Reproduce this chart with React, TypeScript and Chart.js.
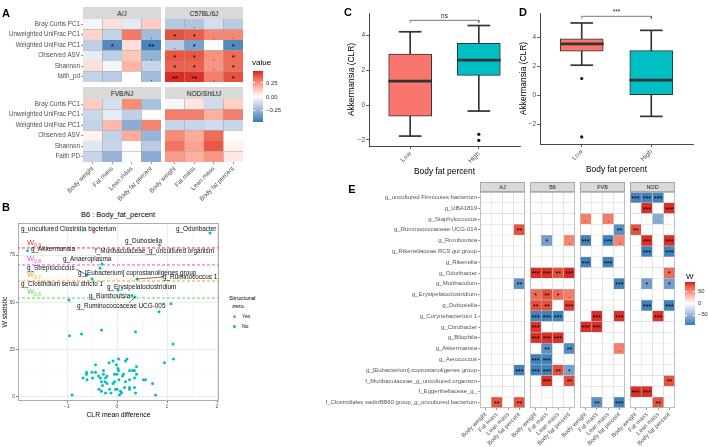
import React, { useEffect, useRef } from "react";
import { Chart, registerables } from "chart.js";

Chart.register(...registerables);

const SANS = "'Liberation Sans', Arimo, Arial, Helvetica, sans-serif";
Chart.defaults.font.family = SANS;

/* ======================= DATA ======================= */
const MEASURES = ["Body weight", "Fat mass", "Lean mass", "Body fat percent"];

// ---- Panel A (correlation heatmaps) ----
const A_ROWS_TOP = ["Bray Curtis PC1", "Unweighted UniFrac PC1", "Weighted UniFrac PC1", "Observed ASV", "Shannon", "faith_pd"];
const A_ROWS_BOTTOM = ["Bray Curtis PC1", "Unweighted UniFrac PC1", "Weighted UniFrac PC1", "Observed ASV", "Shannon", "Faith PD"];
const A_FACETS = ["A/J", "C57BL/6J", "FVB/NJ", "NOD/ShiLtJ"];
const A_AJ = [
  [-0.03, 0.07, -0.07, 0.12],
  [0.1, -0.15, 0.3, -0.22],
  [-0.16, -0.4, 0.07, -0.42],
  [-0.06, -0.16, 0.13, -0.26],
  [0.07, -0.03, 0.17, -0.14],
  [-0.15, -0.17, 0.0, -0.22],
];
const A_AJ_SIG = [
  ["", "", "", ""],
  ["", "", "", "."],
  ["", "*", "", "**"],
  ["", "", "", "."],
  ["", "", "", ""],
  ["", "", "", "."],
];
const A_C57 = [
  [-0.18, -0.19, -0.11, -0.17],
  [0.38, 0.36, 0.27, 0.27],
  [-0.17, -0.32, -0.01, -0.4],
  [0.37, 0.37, 0.25, 0.33],
  [0.35, 0.35, 0.24, 0.33],
  [0.44, 0.43, 0.29, 0.38],
];
const A_C57_SIG = [
  ["", ".", "", ""],
  ["*", "*", ".", "."],
  [".", "*", "", "*"],
  ["*", "*", ".", "*"],
  ["*", "*", ".", "*"],
  ["**", "**", ".", "*"],
];
const A_FVB = [
  [0.12, -0.1, 0.26, -0.21],
  [-0.13, -0.06, -0.16, -0.01],
  [-0.15, 0.16, -0.28, 0.28],
  [0.03, -0.15, 0.19, -0.25],
  [-0.08, -0.14, -0.01, -0.17],
  [-0.14, -0.25, -0.01, -0.28],
];
const A_NOD = [
  [-0.02, 0.06, -0.12, 0.11],
  [0.29, 0.29, 0.18, 0.29],
  [-0.14, -0.14, -0.12, -0.14],
  [0.26, 0.19, 0.33, 0.0],
  [0.31, 0.21, 0.37, 0.03],
  [0.23, 0.18, 0.24, 0.05],
];
const A_NO_SIG = [
  ["", "", "", ""], ["", "", "", ""], ["", "", "", ""],
  ["", "", "", ""], ["", "", "", ""], ["", "", "", ""],
];
const A_LEGEND_TICKS = [0.25, 0, -0.25];

// ---- Panel B (volcano) ----
const B_THRESH_NAMES = ["0.9", "0.8", "0.7", "0.6"];
const B_THRESH_W = [78.8, 69.8, 61.3, 52.3];
const B_YES_X = [-0.46];
const B_YES_W = [87.2];
const B_NO_X = [
  1.86, 0.85, -1.79, -0.3, -0.34, -0.6, -0.5, 0.4, 0.02, 0.3, 0.36, -0.96, 1.08, 0.84,
  -0.95, -0.71, -0.31, 0.37, 1.12, 0.95, 1.13, -0.9, 0.77, 0.71,
  -0.43, -0.16, -0.08, 0.03, 0.17, 0.2, 0.39, -0.01,
  -0.61, -0.5, -0.43, -0.27, 0.02, 0.03, 0.25, 0.31, 0.35, 0.39,
  -0.61, -0.37, -0.27, -0.05, 0.0, 0.13, 0.11,
  -0.68, -0.6, -0.49, -0.33, -0.23, -0.2, 0.35, 0.25, 0.04,
  -0.05, -0.24, -0.31, 0.17, 0.53, 0.57,
  -0.08, -0.2, -0.29, 0.15, 0.25, 0.25, 0.35,
  -0.36, -0.15, -0.03, 0.0, -0.31, -0.23, -0.12, 0.07, 0.05, 0.09, 0.37,
];
const B_NO_W = [
  86.7, 80.3, 77.3, 70.3, 68.2, 64.5, 62.4, 62.4, 56.5, 53.6, 52.9, 51.3, 49.2, 45.0,
  32.3, 33.3, 35.4, 34.4, 28.0, 18.0, 20.0, 1.0, 1.0, 7.0,
  17, 18, 19, 20, 19, 20, 16, 17,
  13, 13, 13, 14, 15, 14, 14, 14, 14, 12,
  12, 11, 12, 12, 12, 12, 11,
  10, 9, 10, 10, 10, 11, 10, 9, 9,
  8, 8, 8, 8, 9, 9,
  7, 7, 6, 5, 5, 4, 5,
  4, 4, 4, 4, 3, 2, 2, 3, 1, 2, 2,
];
const B_TAXA = [
  "g_uncultured Clostridia bacterium", "g_Odoribacter", "g_Dubosiella", "g_Akkermansia",
  "f_Muribaculaceae_g_uncultured organism", "g_Anaeroplasma", "g_Streptococcus",
  "g_[Eubacterium] coprostanoligenes group", "g_Ruminococcus 1", "g_Clostridium sensu stricto 1",
  "g_Erysipelatoclostridium", "g_Romboutsia", "g_Ruminococcaceae UCG-005",
];
const B_X_TICKS = [-1, 0, 1, 2];
const B_Y_TICKS = [0, 25, 50, 75];

// ---- Panels C / D (box plots) ----
const BOX_GROUPS = ["Low", "High"];
const C_MIN = [-1.78, -0.34];
const C_Q1 = [-0.63, 1.71];
const C_MED = [1.38, 2.59];
const C_Q3 = [2.93, 3.56];
const C_MAX = [4.22, 4.58];
const C_OUT_GROUP = ["High", "High"];
const C_OUT_VAL = [-1.68, -2.03];
const C_SIG = "ns";
const D_MIN = [2.09, -1.45];
const D_Q1 = [3.06, 0.05];
const D_MED = [3.56, 1.06];
const D_Q3 = [3.91, 3.1];
const D_MAX = [5.01, 4.5];
const D_OUT_GROUP = ["Low", "Low"];
const D_OUT_VAL = [1.17, -2.87];
const D_SIG = "***";
const BOX_Y_TICKS = [-2, 0, 2, 4];

// ---- Panel E (W heatmap) ----
const E_ROWS = [
  "g_uncultured Firmicutes bacterium", "g_UBA1819", "g_Staphylococcus", "g_Ruminococcaceae UCG-014",
  "g_Romboutsia", "g_Rikenellaceae RC9 gut group", "g_Rikenella", "g_Odoribacter", "g_Muribaculum",
  "g_Erysipelatoclostridium", "g_Dubosiella", "g_Corynebacterium 1", "g_Citrobacter", "g_Bilophila",
  "g_Akkermansia", "g_Aerococcus", "g_[Eubacterium] coprostanoligenes group",
  "f_Muribaculaceae_g_uncultured organism", "f_Eggerthellaceae_g_",
  "f_Clostridiales vadinBB60 group_g_uncultured bacterium",
];
const E_FACETS = ["AJ", "B6", "FVB", "NOD"];
type Cell = [number, number, number, string]; // row, column, W, significance
const E_AJ: Cell[] = [[3, 3, 74, "**"], [8, 3, -74, "**"], [16, 3, -84, "***"], [19, 1, 74, "**"], [19, 3, 74, "**"]];
const E_B6: Cell[] = [
  [4, 1, -65, "*"], [4, 3, 53.4, "."],
  [7, 0, 85, "***"], [7, 1, 85, "***"], [7, 2, 75, "**"], [7, 3, 86.7, "***"],
  [9, 0, 65, "*"], [9, 1, 75, "**"], [9, 2, 65, "*"], [9, 3, 56.5, "."],
  [10, 0, 75, "**"], [10, 1, 75, "**"], [10, 3, 80.3, "***"],
  [11, 0, -84, "***"], [11, 1, -84, "***"], [11, 2, -84, "***"],
  [12, 0, 84, "***"],
  [13, 0, 85, "***"], [13, 1, 85, "***"], [13, 2, 85, "***"],
  [14, 1, -74, "**"], [14, 3, -77, "**"],
  [15, 0, -84, "***"], [15, 1, -84, "***"],
  [16, 0, -84, "***"], [16, 1, -84, "***"], [16, 2, 75, "**"], [16, 3, -62.4, "*"],
  [17, 1, 84, "***"], [17, 3, 76, "**"],
];
const E_FVB: Cell[] = [
  [2, 0, 56, "."], [2, 2, 58, "."], [3, 3, -74, "**"],
  [4, 0, -84, "***"], [4, 2, -84, "***"], [4, 3, 55, "."],
  [6, 0, -84, "***"], [6, 2, -84, "***"], [8, 3, -84, "***"],
  [11, 1, 85, "***"], [11, 3, 85, "***"], [12, 0, 85, "***"], [12, 1, 85, "***"],
  [14, 3, 56, "."], [19, 1, -74, "**"], [19, 3, -84, "***"],
];
const E_NOD: Cell[] = [
  [0, 0, -84, "***"], [0, 1, -84, "***"], [0, 2, -84, "***"],
  [1, 1, 85, "***"], [1, 3, 85, "***"], [2, 2, -55, "."], [3, 0, 74, "**"],
  [4, 1, 85, "***"], [4, 3, 85, "***"], [5, 1, -84, "***"], [5, 3, -84, "***"],
  [7, 3, 65, "*"], [8, 1, -65, "*"], [8, 3, -65, "*"],
  [10, 1, -84, "***"], [10, 3, -84, "***"], [11, 2, 85, "***"],
  [17, 3, 74, "**"], [18, 0, 85, "***"], [18, 1, 85, "***"], [19, 2, 74, "**"],
];
const E_LEGEND_TICKS = [50, 0, -50];

/* ======================= LAYOUT / STYLE ======================= */
const A_LIM = 0.46;
const E_LIM = 90;
const LOW_RGB = [44, 123, 182];
const HIGH_RGB = [215, 25, 28];
const BOX_COLORS = ["#F8766D", "#00BFC4"];
const B_THRESH_COLORS = ["#EE3333", "#DD55DD", "#E8A21C", "#55DD55"];
// label anchors for the repelled text in panel B (data coordinates)
const B_TAXA_POS = [
  [-1.92, 88.8], [1.18, 88.8], [0.16, 82.5], [-1.72, 78.2], [-0.44, 77.2], [-1.08, 72.9], [-1.8, 68.2],
  [-0.78, 65.5], [0.92, 63.4], [-1.92, 59.7], [-0.2, 58.1], [-0.56, 53.4], [-0.8, 48.1],
];
const B_CONNECT = [
  [-0.82, 67.6, -0.6, 64.5],
  [0.4, 62.4, 0.92, 63.4],
  [0.24, 49.7, 0.36, 52.9],
];
const B_WLABEL_X = -1.8;
const B_WLABEL_W = [81.4, 72.9, 64.5, 55.5];

/* ======================= COLOUR ======================= */
function toLin(c: number) { c /= 255; return c <= 0.04045 ? c / 12.92 : Math.pow((c + 0.055) / 1.055, 2.4); }
function fromLin(c: number) {
  const v = c <= 0.0031308 ? 12.92 * c : 1.055 * Math.pow(c, 1 / 2.4) - 0.055;
  return Math.round(Math.max(0, Math.min(1, v)) * 255);
}
function rgb2lab(c: number[]) {
  const R = toLin(c[0]), G = toLin(c[1]), B = toLin(c[2]);
  const X = (0.4124 * R + 0.3576 * G + 0.1805 * B) / 0.95047;
  const Y = 0.2126 * R + 0.7152 * G + 0.0722 * B;
  const Z = (0.0193 * R + 0.1192 * G + 0.9505 * B) / 1.08883;
  const f = (t: number) => (t > 0.008856 ? Math.cbrt(t) : 7.787 * t + 16 / 116);
  const fx = f(X), fy = f(Y), fz = f(Z);
  return [116 * fy - 16, 500 * (fx - fy), 200 * (fy - fz)];
}
function lab2rgb(l: number[]) {
  const fy = (l[0] + 16) / 116, fx = fy + l[1] / 500, fz = fy - l[2] / 200;
  const fi = (t: number) => (t * t * t > 0.008856 ? t * t * t : (t - 16 / 116) / 7.787);
  const X = fi(fx) * 0.95047, Y = fi(fy), Z = fi(fz) * 1.08883;
  return [
    fromLin(3.2406 * X - 1.5372 * Y - 0.4986 * Z),
    fromLin(-0.9689 * X + 1.8758 * Y + 0.0415 * Z),
    fromLin(0.0557 * X - 0.204 * Y + 1.057 * Z),
  ];
}
const WHITE_LAB = rgb2lab([255, 255, 255]);
const LOW_LAB = rgb2lab(LOW_RGB);
const HIGH_LAB = rgb2lab(HIGH_RGB);
function divColor(v: number | null, lim: number) {
  if (v === null || v === undefined) return "#ffffff";
  const t = Math.max(-1, Math.min(1, v / lim));
  const end = t < 0 ? LOW_LAB : HIGH_LAB;
  const k = Math.abs(t);
  const lab = WHITE_LAB.map((w, i) => w + (end[i] - w) * k);
  const c = lab2rgb(lab);
  return `rgb(${c[0]},${c[1]},${c[2]})`;
}

/* ======================= PLUGINS ======================= */
const starsPlugin = (sig: string[][], n: number, size: number) => ({
  id: "stars",
  afterDatasetsDraw(chart: any) {
    const ctx = chart.ctx;
    ctx.save();
    ctx.fillStyle = "#000";
    ctx.font = `${size}px ${SANS}`;
    ctx.textAlign = "center";
    ctx.textBaseline = "middle";
    chart.data.datasets.forEach((_: any, k: number) => {
      const r = n - 1 - k;
      chart.getDatasetMeta(k).data.forEach((el: any, j: number) => {
        const s = sig[r][j];
        if (s) ctx.fillText(s, el.x, (el.y + el.base) / 2 + size * 0.22);
      });
    });
    ctx.restore();
  },
});

const framePlugin = (color: string, width: number) => ({
  id: "frame",
  afterDatasetsDraw(chart: any) {
    const { left, top, right, bottom } = chart.chartArea;
    const ctx = chart.ctx;
    ctx.save();
    ctx.strokeStyle = color;
    ctx.lineWidth = width;
    ctx.strokeRect(left + width / 2, top + width / 2, right - left - width, bottom - top - width);
    ctx.restore();
  },
});

const bLabelPlugin = {
  id: "bLabels",
  afterDatasetsDraw(chart: any) {
    const { ctx } = chart;
    const xs = chart.scales.x, ys = chart.scales.y;
    ctx.save();
    ctx.strokeStyle = "#222";
    ctx.lineWidth = 0.6;
    B_CONNECT.forEach(([a, b, c, d]) => {
      ctx.beginPath();
      ctx.moveTo(xs.getPixelForValue(a), ys.getPixelForValue(b));
      ctx.lineTo(xs.getPixelForValue(c), ys.getPixelForValue(d));
      ctx.stroke();
    });
    ctx.textAlign = "left";
    ctx.textBaseline = "middle";
    ctx.fillStyle = "#111";
    ctx.font = `6.4px ${SANS}`;
    B_TAXA.forEach((t, i) => {
      ctx.fillText(t, xs.getPixelForValue(B_TAXA_POS[i][0]), ys.getPixelForValue(B_TAXA_POS[i][1]));
    });
    B_THRESH_NAMES.forEach((nm, i) => {
      const px = xs.getPixelForValue(B_WLABEL_X), py = ys.getPixelForValue(B_WLABEL_W[i]);
      ctx.fillStyle = B_THRESH_COLORS[i];
      ctx.font = `7.5px ${SANS}`;
      ctx.fillText("W", px, py);
      const w = ctx.measureText("W").width;
      ctx.font = `5px ${SANS}`;
      ctx.fillText(nm, px + w, py + 2.5);
    });
    ctx.restore();
  },
};

const sigTextPlugin = (text: string, yv: number, size: number) => ({
  id: "sigText",
  afterDatasetsDraw(chart: any) {
    const { ctx } = chart;
    const xs = chart.scales.x, ys = chart.scales.y;
    ctx.save();
    ctx.font = `${size}px ${SANS}`;
    ctx.fillStyle = "#222";
    ctx.textAlign = "center";
    ctx.textBaseline = "bottom";
    ctx.fillText(text, (xs.getPixelForValue(1) + xs.getPixelForValue(2)) / 2, ys.getPixelForValue(yv) - 0.5);
    ctx.restore();
  },
});

/* ======================= CONFIG BUILDERS ======================= */
function heatConfig(o: any) {
  const n = o.rows.length;
  const datasets = o.rows.map((_: string, k: number) => {
    const r = n - 1 - k;
    return {
      label: o.rows[r],
      data: MEASURES.map(() => 1),
      backgroundColor: MEASURES.map((_m, j) => divColor(o.values[r][j], o.lim)),
      borderColor: o.cellBorder,
      borderWidth: o.cellBorderWidth,
      borderSkipped: false,
      barPercentage: 1,
      categoryPercentage: 1,
    };
  });
  const plugins: any[] = [starsPlugin(o.sig, n, o.starSize)];
  if (o.frame) plugins.push(framePlugin(o.frame, 0.8));
  const tickGrid = { display: true, drawOnChartArea: false, drawTicks: true, tickLength: 2, color: "#555", lineWidth: 0.6, offset: false };
  return {
    type: "bar",
    data: { labels: MEASURES, datasets },
    plugins,
    options: {
      animation: false,
      responsive: false,
      events: [],
      layout: { padding: { left: o.padL, right: 1, top: 1, bottom: 1 }, autoPadding: false },
      plugins: { legend: { display: false }, tooltip: { enabled: false } },
      scales: {
        x: {
          stacked: true,
          display: o.showX,
          grid: tickGrid,
          border: { display: false },
          ticks: { autoSkip: false, maxRotation: 45, minRotation: 45, padding: 1, font: { size: o.tickSize }, color: o.tickColor },
          afterFit: (s: any) => { if (o.showX) s.height = o.xHeight; s.paddingLeft = 0; s.paddingRight = 0; },
        },
        y: {
          type: "linear",
          stacked: true,
          min: 0,
          max: n,
          display: o.showY,
          grid: tickGrid,
          border: { display: false },
          afterBuildTicks: (s: any) => { s.ticks = o.rows.map((_: string, i: number) => ({ value: i + 0.5 })); },
          ticks: { autoSkip: false, padding: 1, font: { size: o.tickSize }, color: o.tickColor, callback: (v: number) => o.rows[n - 1 - Math.floor(v)] },
          afterFit: (s: any) => { if (o.showY) s.width = o.yWidth; s.paddingTop = 0; s.paddingBottom = 0; },
        },
      },
    },
  };
}

function heatCanvas(id: string, area: number[], o: any) {
  const yW = o.showY ? o.yWidth : 0;
  const xH = o.showX ? o.xHeight : 0;
  const [x0, y0, x1, y1] = area;
  return {
    id,
    left: x0 - yW - o.padL,
    top: y0 - 1,
    width: o.padL + yW + (x1 - x0) + 1,
    height: 1 + (y1 - y0) + xH + 1,
    config: () => heatConfig(o),
  };
}

function gridFromCells(cells: Cell[]) {
  const values = E_ROWS.map(() => MEASURES.map(() => null as number | null));
  const sig = E_ROWS.map(() => MEASURES.map(() => ""));
  cells.forEach(([r, c, w, s]) => { values[r][c] = w; sig[r][c] = s; });
  return { values, sig };
}

const minusFmt = (v: number) => (v < 0 ? "\u2212" + Math.abs(v) : String(v));

function bConfig() {
  const lines = B_THRESH_W.map((w, i) => ({
    type: "line",
    data: [{ x: -3, y: w }, { x: 3, y: w }],
    borderColor: B_THRESH_COLORS[i],
    borderWidth: 1,
    borderDash: [3, 2],
    pointRadius: 0,
    order: 3,
  }));
  const minorX = [-1.5, -0.5, 0.5, 1.5];
  const minorY = [12.5, 37.5, 62.5, 87.5];
  const isMaj = (c: any, maj: number[]) => c.tick && maj.includes(c.tick.value);
  return {
    type: "scatter",
    data: {
      datasets: [
        ...lines,
        { label: "No", data: B_NO_X.map((x, i) => ({ x, y: B_NO_W[i] })), pointRadius: 1.5, backgroundColor: "#00BFC4", borderWidth: 0, order: 1 },
        { label: "Yes", data: B_YES_X.map((x, i) => ({ x, y: B_YES_W[i] })), pointRadius: 1.5, backgroundColor: "#F8766D", borderWidth: 0, order: 0 },
      ],
    },
    plugins: [framePlugin("#999", 0.8), bLabelPlugin],
    options: {
      animation: false,
      responsive: false,
      events: [],
      layout: { padding: { left: 0, right: 2, top: 2, bottom: 0 }, autoPadding: false },
      plugins: { legend: { display: false }, tooltip: { enabled: false } },
      scales: {
        x: {
          type: "linear",
          min: -1.98,
          max: 2.04,
          afterBuildTicks: (s: any) => { s.ticks = [...B_X_TICKS, ...minorX].sort((a, b) => a - b).map((v) => ({ value: v })); },
          ticks: { autoSkip: false, callback: (v: number) => (B_X_TICKS.includes(v) ? minusFmt(v) : ""), font: { size: 5 }, color: "#4d4d4d", padding: 1, maxRotation: 0 },
          grid: {
            color: (c: any) => (isMaj(c, B_X_TICKS) ? "#e4e4e4" : "#f1f1f1"),
            lineWidth: (c: any) => (isMaj(c, B_X_TICKS) ? 0.7 : 0.5),
            tickLength: 2,
            tickColor: (c: any) => (isMaj(c, B_X_TICKS) ? "#555" : "rgba(0,0,0,0)"),
          },
          border: { display: false },
          title: { display: true, text: "CLR mean difference", font: { size: 6.8 }, color: "#000", padding: { top: 0, bottom: 2 } },
          afterFit: (s: any) => { s.height = 20; s.paddingLeft = 0; s.paddingRight = 0; },
        },
        y: {
          type: "linear",
          min: -2.2,
          max: 92,
          afterBuildTicks: (s: any) => { s.ticks = [...B_Y_TICKS, ...minorY].sort((a, b) => a - b).map((v) => ({ value: v })); },
          ticks: { autoSkip: false, callback: (v: number) => (B_Y_TICKS.includes(v) ? String(v) : ""), font: { size: 5 }, color: "#4d4d4d", padding: 1 },
          grid: {
            color: (c: any) => (isMaj(c, B_Y_TICKS) ? "#e4e4e4" : "#f1f1f1"),
            lineWidth: (c: any) => (isMaj(c, B_Y_TICKS) ? 0.7 : 0.5),
            tickLength: 2,
            tickColor: (c: any) => (isMaj(c, B_Y_TICKS) ? "#555" : "rgba(0,0,0,0)"),
          },
          border: { display: false },
          title: { display: true, text: "W statistic", font: { size: 6.8 }, color: "#000", padding: { top: 1, bottom: 0 } },
          afterFit: (s: any) => { s.width = 18; s.paddingTop = 0; s.paddingBottom = 0; },
        },
      },
    },
  };
}

function boxConfig(o: any) {
  const X = BOX_GROUPS.map((_, i) => i + 1);
  const range = (a: number[], b: number[]) => X.map((x, i) => ({ x, y: [a[i], b[i]] }));
  const around = (a: number[], h: number) => X.map((x, i) => ({ x, y: [a[i] - h, a[i] + h] }));
  const datasets = [
    { type: "bar", data: range(o.min, o.max), backgroundColor: "#333333", barThickness: 1, grouped: false, order: 5 },
    { type: "bar", data: around(o.min, o.capHalf), backgroundColor: "#333333", barThickness: 22, grouped: false, order: 4 },
    { type: "bar", data: around(o.max, o.capHalf), backgroundColor: "#333333", barThickness: 22, grouped: false, order: 4 },
    { type: "bar", data: range(o.q1, o.q3), backgroundColor: BOX_COLORS, borderColor: "#333333", borderWidth: 1, borderSkipped: false, barThickness: 43, grouped: false, order: 2 },
    { type: "bar", data: around(o.med, o.medHalf), backgroundColor: "#333333", barThickness: 43, grouped: false, order: 1 },
    { type: "scatter", data: o.outG.map((g: string, i: number) => ({ x: BOX_GROUPS.indexOf(g) + 1, y: o.outV[i] })), pointRadius: 1.6, backgroundColor: "#111", borderWidth: 0, order: 0 },
    {
      type: "line",
      data: [{ x: 1, y: o.brY - o.brDrop }, { x: 1, y: o.brY }, { x: 2, y: o.brY }, { x: 2, y: o.brY - o.brDrop }],
      borderColor: "#555", borderWidth: 0.8, pointRadius: 0, fill: false, tension: 0, order: 6,
    },
  ];
  const tickGrid = { display: true, drawOnChartArea: false, drawTicks: true, tickLength: 3, color: "#333", lineWidth: 0.8, offset: false };
  return {
    type: "bar",
    data: { datasets },
    plugins: [sigTextPlugin(o.sig, o.brY, 6.5)],
    options: {
      animation: false,
      responsive: false,
      events: [],
      layout: { padding: { left: 0, right: 3, top: 4, bottom: 0 }, autoPadding: false },
      plugins: { legend: { display: false }, tooltip: { enabled: false } },
      scales: {
        x: {
          type: "linear",
          min: 0.4,
          max: 2.6,
          offset: false,
          afterBuildTicks: (s: any) => { s.ticks = X.map((v) => ({ value: v })); },
          ticks: { autoSkip: false, callback: (v: number) => BOX_GROUPS[v - 1], maxRotation: 45, minRotation: 45, padding: 1, font: { size: 6.5 }, color: "#4d4d4d" },
          grid: tickGrid,
          border: { display: true, color: "#333", width: 0.9 },
          title: { display: true, text: "Body fat percent", font: { size: 8.4 }, color: "#000", padding: { top: 0, bottom: 1 } },
          afterFit: (s: any) => { s.height = 32; s.paddingLeft = 0; s.paddingRight = 0; },
        },
        y: {
          type: "linear",
          min: o.yMin,
          max: o.yMax,
          afterBuildTicks: (s: any) => { s.ticks = BOX_Y_TICKS.map((v) => ({ value: v })); },
          ticks: { autoSkip: false, callback: (v: number) => minusFmt(v), padding: 1, font: { size: 6.5 }, color: "#4d4d4d" },
          grid: tickGrid,
          border: { display: true, color: "#333", width: 0.9 },
          title: { display: true, text: "Akkermansia (CLR)", font: { size: 8.4 }, color: "#000", padding: { top: 2, bottom: 0 } },
          afterFit: (s: any) => { s.width = o.yWidth; s.paddingTop = 0; s.paddingBottom = 0; },
        },
      },
    },
  };
}

/* ======================= CANVASES ======================= */
const A_COMMON = { lim: A_LIM, tickSize: 6.3, tickColor: "#4d4d4d", starSize: 8, cellBorder: "#9a9a9a", cellBorderWidth: 0.35, frame: null, yWidth: 82, xHeight: 42 };
const E_COMMON = { lim: E_LIM, rows: E_ROWS, tickSize: 6, tickColor: "#555", starSize: 7, cellBorder: "#d2d2d2", cellBorderWidth: 0.5, frame: "#b3b3b3", yWidth: 160, xHeight: 40 };
const E_AREAS = [[480, 192, 525, 408], [530, 192, 575, 408], [580, 192, 625, 408], [630, 192, 675, 408]];
const E_DATA = [E_AJ, E_B6, E_FVB, E_NOD];

const CANVASES = [
  heatCanvas("aAJ", [83, 19, 161, 82], { ...A_COMMON, rows: A_ROWS_TOP, values: A_AJ, sig: A_AJ_SIG, showY: true, showX: false, padL: 1 }),
  heatCanvas("aC57", [165, 19, 243, 82], { ...A_COMMON, rows: A_ROWS_TOP, values: A_C57, sig: A_C57_SIG, showY: false, showX: false, padL: 1 }),
  heatCanvas("aFVB", [83, 99, 161, 162], { ...A_COMMON, rows: A_ROWS_BOTTOM, values: A_FVB, sig: A_NO_SIG, showY: true, showX: true, padL: 1 }),
  heatCanvas("aNOD", [165, 99, 243, 162], { ...A_COMMON, rows: A_ROWS_BOTTOM, values: A_NOD, sig: A_NO_SIG, showY: false, showX: true, padL: 30 }),
  { id: "b", left: 0, top: 221, width: 221, height: 200, config: bConfig },
  {
    id: "c", left: 345, top: 9, width: 178, height: 169,
    config: () => boxConfig({ min: C_MIN, q1: C_Q1, med: C_MED, q3: C_Q3, max: C_MAX, outG: C_OUT_GROUP, outV: C_OUT_VAL, yMin: -2.35, yMax: 5.3, sig: C_SIG, brY: 4.88, brDrop: 0.13, medHalf: 0.06, capHalf: 0.03, yWidth: 24 }),
  },
  {
    id: "d", left: 517, top: 9, width: 179, height: 167,
    config: () => boxConfig({ min: D_MIN, q1: D_Q1, med: D_MED, q3: D_Q3, max: D_MAX, outG: D_OUT_GROUP, outV: D_OUT_VAL, yMin: -3.36, yMax: 5.7, sig: D_SIG, brY: 5.47, brDrop: 0.16, medHalf: 0.07, capHalf: 0.035, yWidth: 23 }),
  },
  ...E_DATA.map((cells, i) => {
    const g = gridFromCells(cells);
    return heatCanvas("e" + i, E_AREAS[i], { ...E_COMMON, values: g.values, sig: g.sig, showY: i === 0, showX: true, padL: i === 0 ? 1 : 30 });
  }),
];

/* ======================= HTML HELPERS ======================= */
function Txt({ x, y, text, size, color = "#000", anchor = "start", weight = 400 }: any) {
  const tx = anchor === "start" ? "0" : anchor === "middle" ? "-50%" : "-100%";
  return (
    <div style={{ position: "absolute", left: x, top: y, transform: `translate(${tx}, -50%)`, fontSize: size, lineHeight: 1, color, fontWeight: weight, whiteSpace: "nowrap", fontFamily: SANS }}>
      {text}
    </div>
  );
}

function Strip({ x0, x1, y0, y1, text, size, border }: any) {
  return (
    <div style={{ position: "absolute", left: x0, top: y0, width: x1 - x0, height: y1 - y0, background: "#d9d9d9", boxSizing: "border-box", border: border ? `0.8px solid ${border}` : "none", display: "flex", alignItems: "center", justifyContent: "center", fontSize: size, color: "#1a1a1a", fontFamily: SANS, whiteSpace: "nowrap" }}>
      {text}
    </div>
  );
}

function ColorBar({ x, y, w, h, lim, ticks, labelX, size, fmt }: any) {
  const stops = Array.from({ length: 21 }, (_, k) => `${divColor(lim * (1 - k / 10), lim)} ${k * 5}%`).join(", ");
  const pos = (v: number) => y + ((lim - v) / (2 * lim)) * h;
  return (
    <>
      <div style={{ position: "absolute", left: x, top: y, width: w, height: h, background: `linear-gradient(to bottom, ${stops})` }} />
      {ticks.map((v: number) => (
        <React.Fragment key={v}>
          <div style={{ position: "absolute", left: x, top: pos(v) - 0.4, width: 2, height: 0.8, background: "#fff" }} />
          <div style={{ position: "absolute", left: x + w - 2, top: pos(v) - 0.4, width: 2, height: 0.8, background: "#fff" }} />
          <Txt x={labelX} y={pos(v)} text={fmt(v)} size={size} color="#333" />
        </React.Fragment>
      ))}
    </>
  );
}

/* ======================= APP ======================= */
export default function App() {
  const refs = useRef<(HTMLCanvasElement | null)[]>([]);
  useEffect(() => {
    const charts = CANVASES.map((c, i) => new Chart(refs.current[i] as HTMLCanvasElement, c.config() as any));
    return () => charts.forEach((ch) => ch.destroy());
  }, []);

  const aStrips = [[83, 161, 7, 19], [165, 243, 7, 19], [83, 161, 87, 99], [165, 243, 87, 99]];
  return (
    <div style={{ position: "absolute", left: 0, top: 0, width: 708, height: 447, overflow: "hidden", background: "#fff", fontFamily: SANS }}>
      {CANVASES.map((c, i) => (
        <canvas
          key={c.id}
          ref={(el) => { refs.current[i] = el; }}
          width={c.width}
          height={c.height}
          style={{ position: "absolute", left: c.left, top: c.top, width: c.width, height: c.height }}
        />
      ))}

      {/* panel letters */}
      <Txt x={6} y={13} text="A" size={11} weight={700} anchor="middle" />
      <Txt x={6} y={207} text="B" size={11} weight={700} anchor="middle" />
      <Txt x={348} y={12} text="C" size={11} weight={700} anchor="middle" />
      <Txt x={523} y={12} text="D" size={11} weight={700} anchor="middle" />
      <Txt x={352} y={189} text="E" size={11} weight={700} anchor="middle" />

      {/* panel A strips + legend */}
      {A_FACETS.map((f, i) => (
        <Strip key={f} x0={aStrips[i][0]} x1={aStrips[i][1]} y0={aStrips[i][2]} y1={aStrips[i][3]} text={f} size={6.5} />
      ))}
      <Txt x={252} y={63} text="value" size={8} />
      <ColorBar x={253} y={71} w={10} h={51} lim={A_LIM} ticks={A_LEGEND_TICKS} labelX={266} size={6} fmt={(v: number) => (v < 0 ? "\u2212" : "") + Math.abs(v).toFixed(2)} />

      {/* panel B title + legend */}
      <Txt x={118} y={215} text="B6 :  Body_fat_percent" size={7.5} anchor="middle" />
      <Txt x={229} y={298} text="Structural" size={6.2} />
      <Txt x={232} y={306} text="zero" size={6.2} />
      <div style={{ position: "absolute", left: 232.5, top: 314.5, width: 3, height: 3, borderRadius: 2, background: "#F8766D" }} />
      <Txt x={242} y={316} text="Yes" size={5} />
      <div style={{ position: "absolute", left: 232.5, top: 324.5, width: 3, height: 3, borderRadius: 2, background: "#00BFC4" }} />
      <Txt x={242} y={326} text="No" size={5} />

      {/* panel E strips + legend */}
      {E_FACETS.map((f, i) => (
        <Strip key={f} x0={E_AREAS[i][0]} x1={E_AREAS[i][2]} y0={182} y1={192} text={f} size={5.5} border="#a8a8a8" />
      ))}
      <Txt x={686} y={277} text="W" size={8} />
      <ColorBar x={685} y={282} w={10} h={43} lim={E_LIM} ticks={E_LEGEND_TICKS} labelX={698} size={5.8} fmt={(v: number) => (v < 0 ? "\u2212" + Math.abs(v) : String(v))} />
    </div>
  );
}
